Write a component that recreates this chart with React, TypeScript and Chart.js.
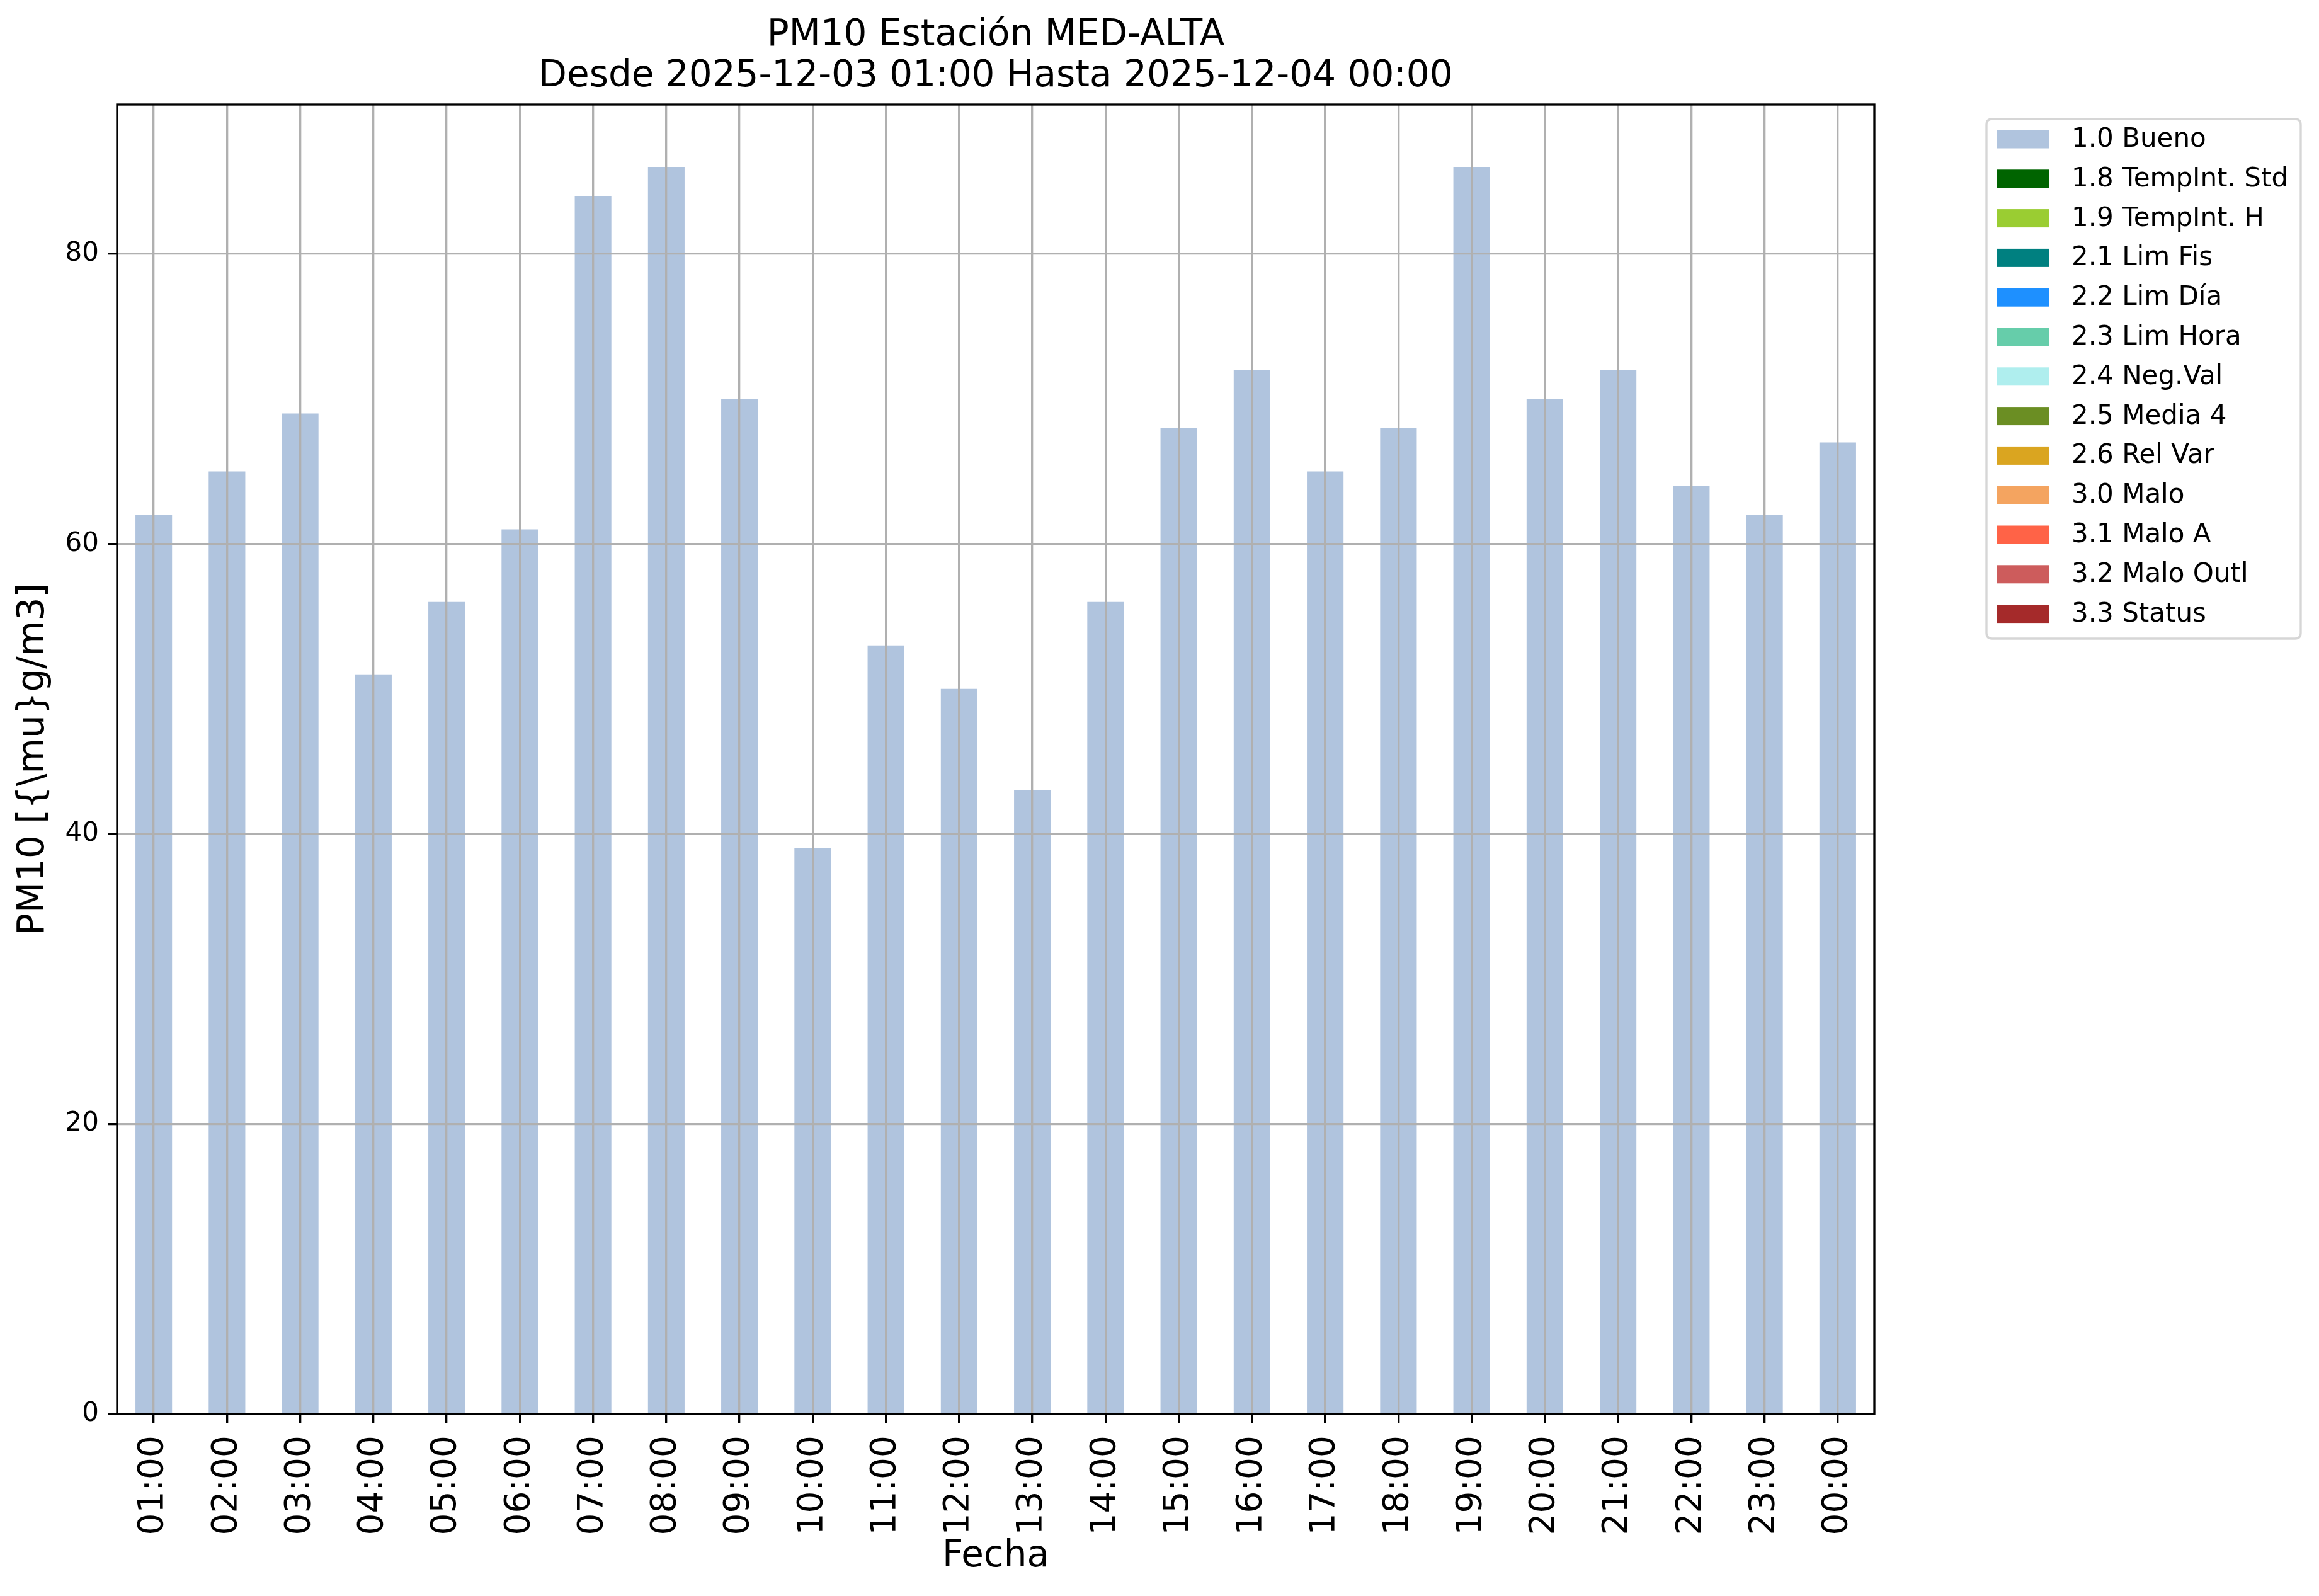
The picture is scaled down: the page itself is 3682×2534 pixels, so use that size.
import { useEffect, useRef } from "react";
import { Chart, registerables } from "chart.js";

Chart.register(...registerables);

const FONT = "DejaVu Sans";

const hours = [
  "01:00", "02:00", "03:00", "04:00", "05:00", "06:00", "07:00", "08:00",
  "09:00", "10:00", "11:00", "12:00", "13:00", "14:00", "15:00", "16:00",
  "17:00", "18:00", "19:00", "20:00", "21:00", "22:00", "23:00", "00:00",
];

// 1.0 Bueno values (µg/m3)
const bueno = [62, 65, 69, 51, 56, 61, 84, 86, 70, 39, 53, 50, 43, 56, 68, 72, 65, 68, 86, 70, 72, 64, 62, 67];

// Flags with no data in this period
const noValues: (number | null)[] = [
  null, null, null, null, null, null, null, null, null, null, null, null,
  null, null, null, null, null, null, null, null, null, null, null, null,
];

const flagLabels = [
  "1.0 Bueno", "1.8 TempInt. Std", "1.9 TempInt. H", "2.1 Lim Fis", "2.2 Lim Día",
  "2.3 Lim Hora", "2.4 Neg.Val", "2.5 Media 4", "2.6 Rel Var", "3.0 Malo",
  "3.1 Malo A", "3.2 Malo Outl", "3.3 Status",
];
const flagColors = [
  "#b0c4de", "#006400", "#9acd32", "#008080", "#1e90ff", "#66cdaa", "#afeeee",
  "#6b8e23", "#daa520", "#f4a460", "#ff6347", "#cd5c5c", "#a52a2a",
];

const yTicks = [0, 20, 40, 60, 80];
const yMax = 90.3;

const titleLines = ["PM10 Estación MED-ALTA", "Desde 2025-12-03 01:00 Hasta 2025-12-04 00:00"];
const xTitle = "Fecha";
const yTitle = "PM10 [{\\mu}g/m3]";

const spinesPlugin = {
  id: "spines",
  afterDraw(chart: any) {
    const { ctx, chartArea } = chart;
    ctx.save();
    ctx.strokeStyle = "#000";
    ctx.lineWidth = 3.33;
    ctx.lineJoin = "miter";
    ctx.strokeRect(chartArea.left, chartArea.top, chartArea.right - chartArea.left, chartArea.bottom - chartArea.top);
    ctx.restore();
  },
};

const legendPlugin = {
  id: "flagLegend",
  afterDraw(chart: any) {
    const ctx = chart.ctx;
    const x0 = 3154, y0 = 189, x1 = 3653, y1 = 1014, r = 9;
    ctx.save();
    ctx.beginPath();
    ctx.moveTo(x0 + r, y0);
    ctx.lineTo(x1 - r, y0);
    ctx.quadraticCurveTo(x1, y0, x1, y0 + r);
    ctx.lineTo(x1, y1 - r);
    ctx.quadraticCurveTo(x1, y1, x1 - r, y1);
    ctx.lineTo(x0 + r, y1);
    ctx.quadraticCurveTo(x0, y1, x0, y1 - r);
    ctx.lineTo(x0, y0 + r);
    ctx.quadraticCurveTo(x0, y0, x0 + r, y0);
    ctx.closePath();
    ctx.fillStyle = "#ffffff";
    ctx.fill();
    ctx.strokeStyle = "#d6d6d6";
    ctx.lineWidth = 3.33;
    ctx.stroke();
    ctx.font = `42px "${FONT}"`;
    ctx.textBaseline = "middle";
    ctx.textAlign = "left";
    chart.data.datasets.forEach((ds: any, i: number) => {
      const cy = 221 + i * 62.8;
      ctx.fillStyle = ds.backgroundColor;
      ctx.fillRect(3170.5, cy - 14.5, 83.5, 29);
      ctx.fillStyle = "#000";
      ctx.fillText(ds.label, 3289, cy + 1);
    });
    ctx.restore();
  },
};

export default function App() {
  const canvasRef = useRef<HTMLCanvasElement | null>(null);

  useEffect(() => {
    const canvas = canvasRef.current;
    if (!canvas) return;
    const datasets = flagLabels.map((label, i) => ({
      label,
      data: i === 0 ? bueno : noValues,
      backgroundColor: flagColors[i],
      borderWidth: 0,
      barPercentage: 0.5,
      categoryPercentage: 1.0,
    }));
    const chart = new Chart(canvas, {
      type: "bar",
      data: { labels: hours, datasets },
      options: {
        animation: false,
        responsive: false,
        devicePixelRatio: 1,
        layout: { padding: { left: 0, top: 0, right: 706, bottom: 0 } },
        plugins: {
          legend: { display: false },
          tooltip: { enabled: false },
          title: {
            display: true,
            text: titleLines,
            fullSize: false,
            color: "#000",
            font: { family: FONT, size: 58, weight: "normal", lineHeight: 65 / 58 },
            padding: { top: 24.5, bottom: 11.5 },
          },
        },
        scales: {
          x: {
            type: "category",
            stacked: true,
            offset: true,
            grid: {
              offset: false,
              color: "#b0b0b0",
              lineWidth: 3.33,
              tickColor: "#000",
              tickWidth: 3.33,
              tickLength: 15,
              z: 1,
            },
            border: { display: false },
            ticks: {
              color: "#000",
              font: { family: FONT, size: 55 },
              maxRotation: 90,
              minRotation: 90,
              padding: 19,
              autoSkip: false,
            },
            title: {
              display: true,
              text: xTitle,
              color: "#000",
              font: { family: FONT, size: 58, lineHeight: 1.2 },
              padding: { top: 0, bottom: 27.2 },
            },
            afterFit: (s: any) => {
              s.height = 289;
            },
          },
          y: {
            stacked: true,
            min: 0,
            max: yMax,
            afterBuildTicks: (s: any) => {
              s.ticks = yTicks.map((v) => ({ value: v }));
            },
            grid: {
              color: "#b0b0b0",
              lineWidth: 3.33,
              tickColor: "#000",
              tickWidth: 3.33,
              tickLength: 15,
              z: 1,
            },
            border: { display: false },
            ticks: {
              color: "#000",
              font: { family: FONT, size: 42 },
              padding: 14,
            },
            title: {
              display: true,
              text: yTitle,
              color: "#000",
              font: { family: FONT, size: 58, lineHeight: 1.2 },
              padding: { top: 19.2, bottom: 0 },
            },
            afterFit: (s: any) => {
              s.width = 186;
            },
          },
        },
      } as any,
      plugins: [spinesPlugin, legendPlugin],
    });
    return () => chart.destroy();
  }, []);

  return (
    <div style={{ position: "absolute", left: 0, top: 0, width: 3682, height: 2534, background: "#fff" }}>
      <canvas ref={canvasRef} width={3682} height={2534} style={{ display: "block" }} />
    </div>
  );
}
